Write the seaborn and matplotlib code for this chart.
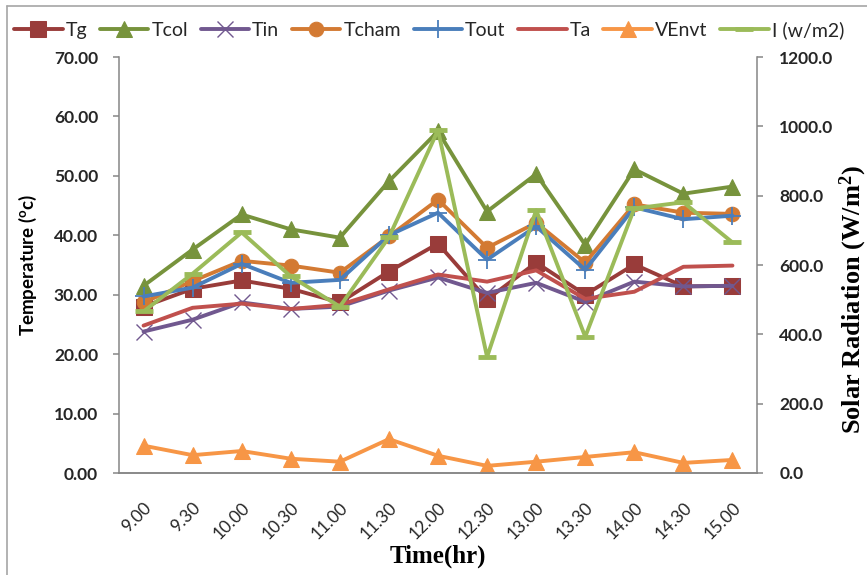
import numpy as np
import pandas as pd
import matplotlib
matplotlib.use("Agg")
import matplotlib.pyplot as plt
import seaborn as sns
from matplotlib.ticker import FormatStrFormatter, MultipleLocator, FixedLocator

# Half-hourly readings of the solar dryer
times = ["9.00", "9.30", "10.00", "10.30", "11.00", "11.30", "12.00",
         "12.30", "13.00", "13.30", "14.00", "14.30", "15.00"]

tg = [28.0, 31.0, 32.4, 31.0, 28.7, 33.9, 38.6, 29.2, 35.4, 30.0, 35.1, 31.4, 31.5]
tcol = [31.5, 37.6, 43.5, 41.0, 39.6, 49.1, 57.5, 44.0, 50.3, 38.4, 51.1, 47.0, 48.2]
tin = [23.8, 25.8, 28.7, 27.6, 28.0, 30.7, 32.9, 30.3, 32.0, 28.8, 32.2, 31.4, 31.5]
tcham = [28.7, 32.3, 35.7, 34.9, 33.7, 39.8, 46.0, 37.9, 42.1, 35.4, 45.2, 43.8, 43.6]
tout = [29.7, 31.2, 35.2, 32.0, 32.5, 40.0, 43.8, 35.9, 41.5, 34.2, 44.7, 42.7, 43.3]
ta = [24.8, 27.8, 28.5, 27.6, 28.3, 30.9, 33.4, 32.2, 34.1, 29.3, 30.5, 34.7, 34.9]
venvt = [4.6, 3.0, 3.7, 2.4, 1.9, 5.7, 2.9, 1.2, 1.9, 2.7, 3.5, 1.7, 2.2]
irr = [466, 575, 694, 567, 480, 680, 989, 335, 758, 393, 763, 781, 665]

sns.set_theme(style="white")
plt.rcParams["font.family"] = ["Lato", "DejaVu Sans"]
plt.rcParams["mathtext.default"] = "regular"

fig = plt.figure(figsize=(8.67, 5.75), dpi=100)
ax = fig.add_axes([119 / 867, 1 - 473 / 575, (757 - 119) / 867, (473 - 57) / 575])
ax2 = ax.twinx()

pos = np.arange(len(times))
df = pd.DataFrame({"pos": pos, "Tg": tg, "Tcol": tcol, "Tin": tin, "Tcham": tcham,
                   "Tout": tout, "Ta": ta, "VEnvt": venvt, "I (w/m2)": irr})

lw = 2.8
styles = [
    ("Tg", "#993C3A", dict(marker="s", markersize=11)),
    ("Tcol", "#77933C", dict(marker="^", markersize=12)),
    ("Tin", "#71588F", dict(marker="x", markersize=11, markeredgewidth=1.0)),
    ("Tcham", "#D37A33", dict(marker="o", markersize=10.5)),
    ("Tout", "#4A7EBB", dict(marker="+", markersize=13, markeredgewidth=1.3)),
    ("Ta", "#C0504D", dict()),
    ("VEnvt", "#F79646", dict(marker="^", markersize=11)),
]

handles = []
for name, color, kw in styles:
    sns.lineplot(data=df, x="pos", y=name, color=color, linewidth=lw, ax=ax,
                 markeredgecolor=color, legend=False, **kw)
    handles.append(ax.get_lines()[-1])

sns.lineplot(data=df, x="pos", y="I (w/m2)", color="#9BBB59", linewidth=lw, ax=ax2,
             marker="_", markersize=13, markeredgewidth=3.5, markeredgecolor="#9BBB59",
             legend=False)
handles.append(ax2.get_lines()[-1])
labels = [s[0] for s in styles] + ["I (w/m2)"]

grey = "#868686"
tick_color = "#262626"

# Primary axis: temperature
ax.set_xlim(-0.5, len(times) - 0.5)
ax.set_ylim(0, 70)
ax.yaxis.set_major_locator(MultipleLocator(10))
ax.yaxis.set_major_formatter(FormatStrFormatter("%.2f"))
ax.set_xticks(pos)
ax.set_xticklabels(times, rotation=45, ha="right", rotation_mode="anchor",
                   fontsize=12.5, color=tick_color)
ax.xaxis.set_minor_locator(FixedLocator(np.arange(-0.5, len(times), 1.0)))
ax.tick_params(axis="x", which="major", length=0, pad=19)
ax.tick_params(axis="x", which="minor", length=4, width=1.1, color=grey, direction="out")
ax.tick_params(axis="y", which="major", length=4, width=1.1, color=grey,
               direction="out", left=True, labelsize=12.5, labelcolor=tick_color, pad=11)
for t in ax.get_yticklabels():
    t.set_fontweight("bold")

# Secondary axis: solar radiation
ax2.set_ylim(0, 1200)
ax2.yaxis.set_major_locator(MultipleLocator(200))
ax2.yaxis.set_major_formatter(FormatStrFormatter("%.1f"))
ax2.tick_params(axis="y", which="major", length=4, width=1.1, color=grey,
                direction="out", right=True, labelsize=12.5, labelcolor=tick_color, pad=12)
for t in ax2.get_yticklabels():
    t.set_fontweight("bold")

for a in (ax, ax2):
    a.spines["top"].set_visible(False)
    for s in ("left", "right", "bottom"):
        a.spines[s].set_color(grey)
        a.spines[s].set_linewidth(1.1)
    a.grid(False)
    a.set_xlabel("")
ax.spines["right"].set_visible(False)
ax2.spines["left"].set_visible(False)

ax.set_ylabel("Temperature ($^{o}$c)", fontsize=13.5, fontweight="bold",
              color="black", labelpad=11)
ax2.set_ylabel("Solar Radiation (W/m$^{2}$)", fontsize=19, fontweight="bold",
               family="Liberation Serif", color="black", rotation=90)
ax2.yaxis.set_label_coords((853 - 119) / 638, (473 - 300) / 416)
ax2.yaxis.label.set_verticalalignment("center")
ax2.yaxis.label.set_horizontalalignment("center")
ax.set_xlabel("Time(hr)", fontsize=18, fontweight="bold", family="Liberation Serif",
              color="black", labelpad=2)

fig.legend(handles, labels, loc="center left", bbox_to_anchor=(14 / 867, 1 - 30 / 575),
           ncol=8, frameon=False, fontsize=14, handlelength=2.5, handletextpad=0.15,
           columnspacing=0.65, numpoints=1, borderaxespad=0, borderpad=0)

# Chart-area border
fig.add_artist(plt.Line2D([7 / 867, 1.0], [1 - 6 / 575, 1 - 6 / 575],
                          transform=fig.transFigure, color="#A6A6A6", linewidth=1.2))
fig.add_artist(plt.Line2D([7 / 867, 7 / 867], [0.0, 1 - 6 / 575],
                          transform=fig.transFigure, color="#A6A6A6", linewidth=1.2))

fig.savefig("out.png", dpi=100, facecolor="white")
